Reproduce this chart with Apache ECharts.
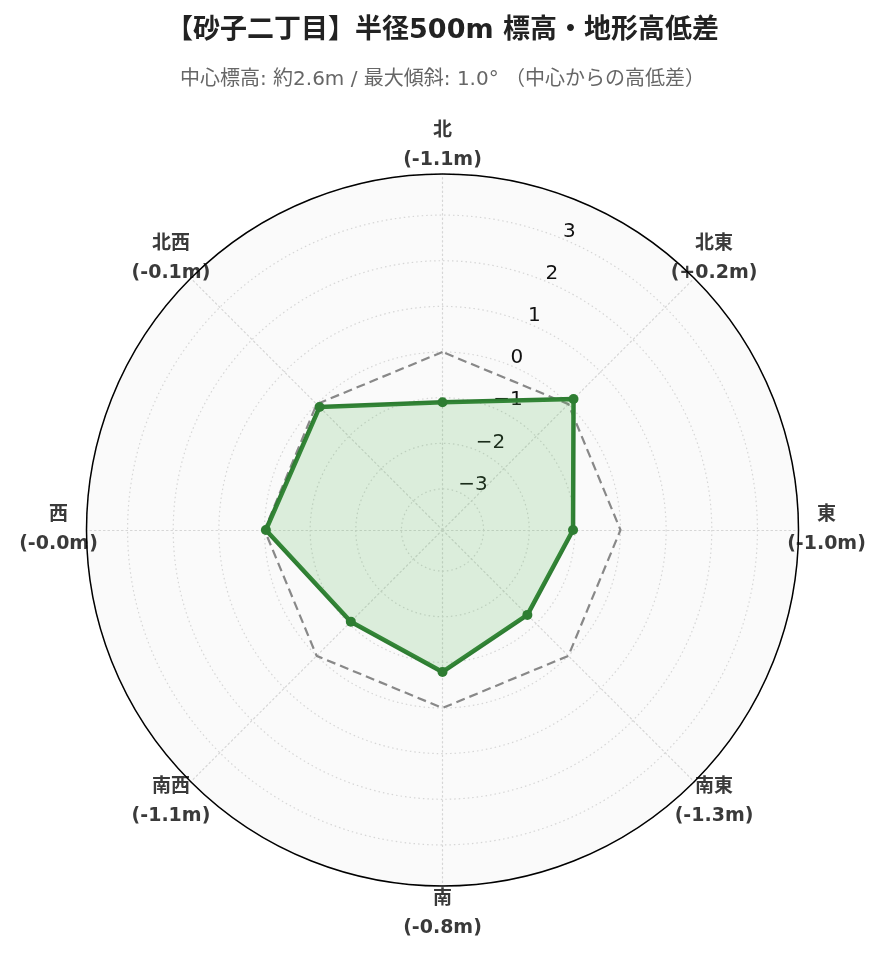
<!DOCTYPE html>
<html>
<head>
<meta charset="utf-8">
<script src="https://cdn.jsdelivr.net/npm/echarts@6/dist/echarts.min.js"></script>
<style>
  html, body { margin: 0; padding: 0; background: #fff; }
  #chart { width: 885px; height: 962px; }
</style>
</head>
<body>
<div id="chart"></div>
<script>
var chart = echarts.init(document.getElementById('chart'));

// 方位と中心からの高低差 (m)、北から時計回り
var directions = ['北', '北東', '東', '南東', '南', '南西', '西', '北西'];
var diffs = [-1.1, 0.16, -1.04, -1.27, -0.79, -1.06, -0.03, -0.09];
var baseline = [0, 0, 0, 0, 0, 0, 0, 0];
var rMin = -3.9, rMax = 3.9;

var FONT = 'DejaVu Sans, "Noto Sans CJK JP", sans-serif';
var CENTER = ['50%', 530];

// レーダーは反時計回りに並ぶので順番を入れ替える
var radarOrder = [0, 7, 6, 5, 4, 3, 2, 1];
function toRadar(arr) {
    return radarOrder.map(function (i) { return arr[i]; });
}

function fmtDiff(v) {
    return (v > 0 ? '+' : '') + v.toFixed(1) + 'm';
}

var option = {
    backgroundColor: '#fff',
    title: {
        text: '【砂子二丁目】半径500m 標高・地形高低差',
        subtext: '中心標高: 約2.6m / 最大傾斜: 1.0° （中心からの高低差）',
        left: 'center',
        top: 12,
        itemGap: 26,
        textStyle: { fontFamily: FONT, fontSize: 27, fontWeight: 'bold', color: '#222' },
        subtextStyle: { fontFamily: FONT, fontSize: 20, color: '#666' }
    },
    polar: [
        { center: CENTER, radius: 356 },
        { center: CENTER, radius: 384 }
    ],
    angleAxis: [
        {
            polarIndex: 0,
            type: 'value', min: 0, max: 360,
            startAngle: 67.5, clockwise: true,
            axisLine: { lineStyle: { color: '#000', width: 1.5 } },
            axisTick: { show: false },
            axisLabel: { show: false },
            splitLine: { show: false },
            z: 3
        },
        {
            polarIndex: 1,
            type: 'category', data: directions, boundaryGap: false,
            startAngle: 90, clockwise: true,
            axisLine: { show: false },
            axisTick: { show: false },
            axisLabel: { show: false },
            splitLine: { show: false }
        }
    ],
    radiusAxis: [
        {
            polarIndex: 0,
            min: rMin, max: rMax, splitNumber: 8,
            axisLine: { show: false },
            axisTick: { show: false },
            axisLabel: {
                fontFamily: FONT, fontSize: 20, color: '#111',
                align: 'left', verticalAlign: 'bottom', margin: 0,
                lineHeight: 15,
                formatter: function (v) {
                    if (v <= rMin || v >= rMax) return '';
                    return String(v).replace('-', '−');
                }
            },
            splitLine: { show: true, lineStyle: { color: '#d6d6d6', type: [1.5, 3], width: 1.2 } },
            z: 3
        },
        {
            polarIndex: 1,
            min: 0, max: 1,
            axisLine: { show: false },
            axisTick: { show: false },
            axisLabel: { show: false },
            splitLine: { show: false }
        }
    ],
    radar: {
        center: CENTER,
        radius: 356,
        startAngle: 90,
        shape: 'circle',
        splitNumber: 1,
        indicator: toRadar(directions).map(function (d) { return { name: d, min: rMin, max: rMax }; }),
        axisName: { show: false },
        splitLine: { show: false },
        splitArea: { show: true, areaStyle: { color: ['#fafafa'] } },
        axisLine: { lineStyle: { color: '#d6d6d6', type: [1.5, 3], width: 1.2 } },
        z: 1
    },
    series: [
        {
            type: 'radar',
            z: 4,
            silent: true,
            data: [{
                value: baseline,
                symbol: 'none',
                lineStyle: { color: '#888', type: [9, 5], width: 2.2 }
            }]
        },
        {
            type: 'radar',
            z: 5,
            data: [{
                value: toRadar(diffs),
                symbol: 'circle',
                symbolSize: 10,
                itemStyle: { color: '#2e7d32' },
                lineStyle: { color: '#2e7d32', width: 4.5 },
                areaStyle: { color: 'rgba(76,175,80,0.18)', opacity: 1 }
            }]
        },
        {
            type: 'scatter',
            coordinateSystem: 'polar',
            polarIndex: 1,
            symbolSize: 1,
            itemStyle: { color: 'rgba(0,0,0,0)', opacity: 1 },
            silent: true,
            data: directions.map(function (d, i) { return [1, d, diffs[i]]; }),
            label: {
                show: true,
                position: 'inside',
                fontFamily: FONT,
                fontSize: 19,
                fontWeight: 'bold',
                color: '#3a3a3a',
                opacity: 1,
                lineHeight: 29,
                align: 'center',
                verticalAlign: 'middle',
                formatter: function (p) {
                    return p.value[1] + '\n(' + fmtDiff(p.value[2]) + ')';
                }
            }
        }
    ]
};

chart.setOption(option);
</script>
</body>
</html>
